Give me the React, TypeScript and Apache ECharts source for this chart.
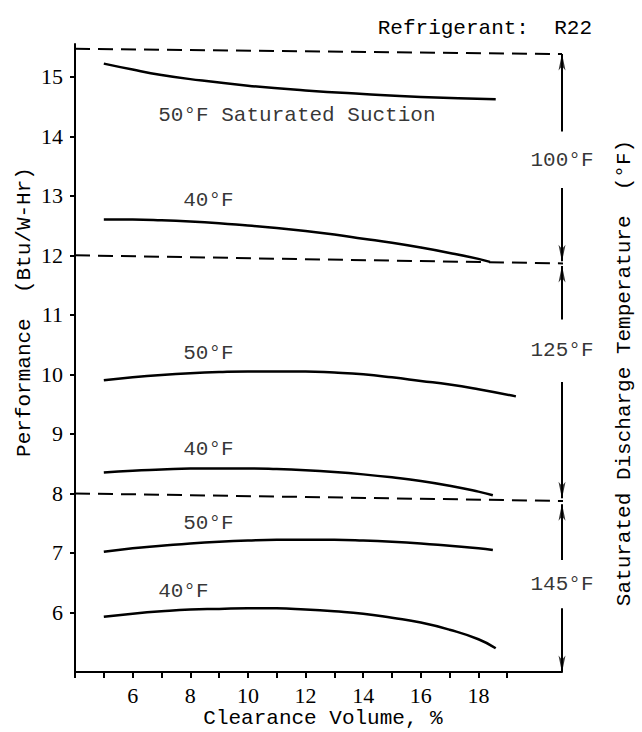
import { useEffect, useRef } from "react";
import * as echarts from "echarts";

// ---- axes ----
const xTickValues = [4, 5, 6, 7, 8, 9, 10, 11, 12, 13, 14, 15, 16, 17, 18, 19];
const xTickLabels = [6, 8, 10, 12, 14, 16, 18];
const yTickLabels = [6, 7, 8, 9, 10, 11, 12, 13, 14, 15];

// ---- performance curves (clearance volume %, Btu/W-Hr) ----
const s50d100X = [5, 6, 7, 8, 10, 12, 14, 16, 18.6];
const s50d100Y = [15.22, 15.12, 15.03, 14.96, 14.85, 14.77, 14.71, 14.66, 14.62];
const s40d100X = [5, 6, 7, 8, 9, 10, 11, 12, 13, 14, 15, 16, 17, 18, 18.4];
const s40d100Y = [12.6, 12.6, 12.59, 12.57, 12.54, 12.5, 12.46, 12.41, 12.35, 12.28, 12.21, 12.13, 12.04, 11.94, 11.89];
const s50d125X = [5, 6, 7, 8, 9, 10, 11, 12, 13, 14, 15, 16, 17, 18, 19.3];
const s50d125Y = [9.9, 9.95, 9.99, 10.02, 10.04, 10.05, 10.05, 10.05, 10.03, 10.0, 9.95, 9.89, 9.83, 9.75, 9.63];
const s40d125X = [5, 6, 7, 8, 9, 10, 11, 12, 13, 14, 15, 16, 17, 18, 18.5];
const s40d125Y = [8.35, 8.38, 8.4, 8.42, 8.42, 8.42, 8.41, 8.39, 8.36, 8.32, 8.27, 8.21, 8.13, 8.03, 7.97];
const s50d145X = [5, 6, 7, 8, 9, 10, 11, 12, 13, 14, 15, 16, 17, 18, 18.5];
const s50d145Y = [7.02, 7.08, 7.12, 7.16, 7.19, 7.21, 7.22, 7.22, 7.22, 7.21, 7.19, 7.16, 7.12, 7.08, 7.05];
const s40d145X = [5, 6, 7, 8, 9, 10, 11, 12, 13, 14, 15, 16, 17, 18, 18.6];
const s40d145Y = [5.93, 5.98, 6.02, 6.05, 6.06, 6.07, 6.07, 6.05, 6.02, 5.98, 5.91, 5.83, 5.71, 5.55, 5.4];

// ---- discharge temperature boundaries (dashed) ----
const boundaryTopX = [4, 20.9];
const boundaryTopY = [15.47, 15.38];
const boundaryMidX = [4, 21.35];
const boundaryMidY = [12.0, 11.86];
const boundaryLowX = [4, 21.35];
const boundaryLowY = [8.0, 7.87];

// ---- dimension arrows ----
const arrowX = 20.9;
const shaftFrom = [14.08, 13.13, 10.92, 9.87, 6.88, 6.07];
const shaftTo = [15.38, 11.9, 11.82, 7.92, 7.82, 5.0];

// ---- labels ----
const curveLabelText = ["50°F Saturated Suction", "40°F", "50°F", "40°F", "50°F", "40°F"];
const curveLabelX = [11.7, 8.63, 8.63, 8.63, 8.63, 7.76];
const curveLabelY = [14.35, 12.92, 10.35, 8.74, 7.5, 6.36];
const dischargeLabelText = ["100°F", "125°F", "145°F"];
const dischargeLabelY = [13.6, 10.4, 6.47];

const MONO = "Liberation Mono";
const SERIF = "Liberation Serif";

function zip(xs: number[], ys: number[]) {
  return xs.map((x, i) => [x, ys[i]]);
}

export default function App() {
  const ref = useRef<HTMLDivElement>(null);

  useEffect(() => {
    if (!ref.current) return;
    const chart = echarts.init(ref.current, undefined, { renderer: "svg" });

    const curves = [
      zip(s50d100X, s50d100Y),
      zip(s40d100X, s40d100Y),
      zip(s50d125X, s50d125Y),
      zip(s40d125X, s40d125Y),
      zip(s50d145X, s50d145Y),
      zip(s40d145X, s40d145Y),
    ];
    const boundaries = [
      zip(boundaryTopX, boundaryTopY),
      zip(boundaryMidX, boundaryMidY),
      zip(boundaryLowX, boundaryLowY),
    ];

    const curveSeries = curves.map((d) => ({
      type: "line",
      data: d,
      smooth: true,
      symbol: "none",
      silent: true,
      lineStyle: { color: "#000", width: 2.5 },
    }));
    const boundarySeries = boundaries.map((d) => ({
      type: "line",
      data: d,
      symbol: "none",
      silent: true,
      clip: false,
      lineStyle: { color: "#000", width: 2, type: [15, 8] },
    }));
    const shaftSeries = shaftFrom.map((f, i) => ({
      type: "line",
      data: [
        [arrowX, f],
        [arrowX, shaftTo[i]],
      ],
      symbol: "none",
      silent: true,
      clip: false,
      lineStyle: { color: "#000", width: 2 },
    }));

    const upTips = shaftFrom
      .map((f, i) => (shaftTo[i] > f ? [arrowX, shaftTo[i]] : null))
      .filter(Boolean);
    const downTips = shaftFrom
      .map((f, i) => (shaftTo[i] < f ? [arrowX, shaftTo[i]] : null))
      .filter(Boolean);

    const axisLabelStyle = {
      color: "#000",
      fontFamily: SERIF,
      fontSize: 22,
      margin: 12,
    };

    const option: any = {
      animation: false,
      backgroundColor: "#fff",
      textStyle: { fontFamily: SERIF, color: "#000" },
      grid: { left: 75, right: 80, top: 44, bottom: 60, containLabel: false },
      xAxis: {
        type: "value",
        min: 4,
        max: 20.9,
        interval: 1,
        axisLine: { show: true, lineStyle: { color: "#000", width: 2 } },
        axisTick: {
          show: true,
          customValues: xTickValues,
          length: 6,
          lineStyle: { color: "#000", width: 2 },
        },
        axisLabel: { ...axisLabelStyle, customValues: xTickLabels },
        splitLine: { show: false },
      },
      yAxis: {
        type: "value",
        min: 5,
        max: 15.55,
        interval: 1,
        axisLine: { show: true, lineStyle: { color: "#000", width: 2 } },
        axisTick: {
          show: true,
          customValues: yTickLabels,
          length: 5,
          lineStyle: { color: "#000", width: 2 },
        },
        axisLabel: { ...axisLabelStyle, customValues: yTickLabels },
        splitLine: { show: false },
      },
      series: [
        ...curveSeries,
        ...boundarySeries,
        ...shaftSeries,
        {
          type: "scatter",
          data: upTips,
          symbol: "path://M0,0 L4,16 L0,12 L-4,16 Z",
          symbolSize: [7, 17],
          symbolOffset: [0, 8],
          silent: true,
          clip: false,
          itemStyle: { color: "#000" },
        },
        {
          type: "scatter",
          data: downTips,
          symbol: "path://M0,16 L4,0 L0,4 L-4,0 Z",
          symbolSize: [7, 17],
          symbolOffset: [0, -8],
          silent: true,
          clip: false,
          itemStyle: { color: "#000" },
        },
        {
          type: "scatter",
          silent: true,
          clip: false,
          symbolSize: 1,
          itemStyle: { color: "transparent" },
          data: curveLabelText.map((t, i) => ({ name: t, value: [curveLabelX[i], curveLabelY[i]] })),
          label: {
            show: true,
            position: "inside",
            formatter: "{b}",
            color: "#000",
            fontFamily: MONO,
            fontSize: 21,
          },
        },
        {
          type: "scatter",
          silent: true,
          clip: false,
          symbolSize: 1,
          itemStyle: { color: "transparent" },
          data: dischargeLabelText.map((t, i) => ({ name: t, value: [arrowX, dischargeLabelY[i]] })),
          label: {
            show: true,
            position: "inside",
            formatter: "{b}",
            color: "#000",
            fontFamily: MONO,
            fontSize: 21,
          },
        },
      ],
      graphic: [
        {
          type: "text",
          x: 592,
          y: 28,
          style: {
            text: "Refrigerant:  R22",
            fill: "#000",
            fontFamily: MONO,
            fontSize: 21,
            align: "right",
            verticalAlign: "middle",
          },
        },
        {
          type: "text",
          x: 323,
          y: 718,
          style: {
            text: "Clearance Volume, %",
            fill: "#000",
            fontFamily: MONO,
            fontSize: 21,
            align: "center",
            verticalAlign: "middle",
          },
        },
        {
          type: "text",
          x: 24,
          y: 312,
          rotation: Math.PI / 2,
          style: {
            text: "Performance  (Btu/W-Hr)",
            fill: "#000",
            fontFamily: MONO,
            fontSize: 21,
            align: "center",
            verticalAlign: "middle",
          },
        },
        {
          type: "text",
          x: 624,
          y: 373,
          rotation: Math.PI / 2,
          style: {
            text: "Saturated Discharge Temperature  (°F)",
            fill: "#000",
            fontFamily: MONO,
            fontSize: 21,
            align: "center",
            verticalAlign: "middle",
          },
        },
      ],
    };

    chart.setOption(option);
    return () => chart.dispose();
  }, []);

  return (
    <div
      ref={ref}
      style={{ position: "fixed", left: 0, top: 0, width: 642, height: 732, background: "#fff" }}
    />
  );
}
